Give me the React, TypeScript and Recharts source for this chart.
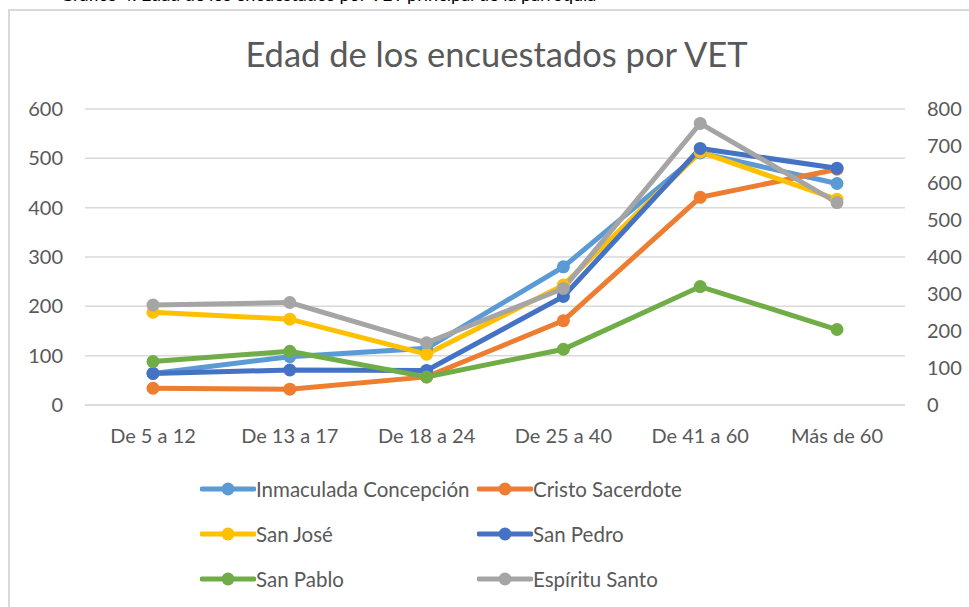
import React from "react";
import { LineChart, Line, XAxis, YAxis, CartesianGrid, Legend } from "recharts";

const categories = ["De 5 a 12", "De 13 a 17", "De 18 a 24", "De 25 a 40", "De 41 a 60", "Más de 60"];
const inmaculada = [64, 98, 115, 280, 511, 449];
const cristo = [34, 32, 57, 171, 421, 478];
const sanJose = [188, 174, 103, 243, 513, 417];
const sanPedro = [64, 71, 70, 220, 520, 480];
const sanPablo = [88, 109, 57, 113, 240, 153];
const espiritu = [270, 277, 168, 315, 761, 547]; // secondary axis
const leftTicks = [0, 100, 200, 300, 400, 500, 600];
const rightTicks = [0, 100, 200, 300, 400, 500, 600, 700, 800];

const seriesList = [
  { key: "inmaculada", name: "Inmaculada Concepción", color: "#5B9BD5", values: inmaculada, axis: "left" },
  { key: "cristo", name: "Cristo Sacerdote", color: "#ED7D31", values: cristo, axis: "left" },
  { key: "sanJose", name: "San José", color: "#FFC000", values: sanJose, axis: "left" },
  { key: "sanPedro", name: "San Pedro", color: "#4472C4", values: sanPedro, axis: "left" },
  { key: "sanPablo", name: "San Pablo", color: "#70AD47", values: sanPablo, axis: "left" },
  { key: "espiritu", name: "Espíritu Santo", color: "#A5A5A5", values: espiritu, axis: "right" },
];

const data = categories.map((c, i) => {
  const row: Record<string, any> = { cat: c };
  seriesList.forEach((s) => (row[s.key] = s.values[i]));
  return row;
});

const FONT = "Lato, 'Open Sans', sans-serif";
const TXT = "#595959";

const LegendContent = () => (
  <div style={{ display: "grid", gridTemplateColumns: "277px 260px", rowGap: 0, fontFamily: FONT }}>
    {seriesList.map((s) => (
      <div key={s.key} style={{ display: "flex", alignItems: "center", height: 45 }}>
        <svg width={56} height={16} style={{ flex: "none" }}>
          <line x1={2} y1={8} x2={54} y2={8} stroke={s.color} strokeWidth={5} strokeLinecap="round" />
          <circle cx={28} cy={8} r={6.5} fill={s.color} />
        </svg>
        <span style={{ fontSize: 20.5, color: TXT, whiteSpace: "nowrap" }}>{s.name}</span>
      </div>
    ))}
  </div>
);

export default function App() {
  return (
    <div style={{ position: "absolute", left: 0, top: 0, width: 969, height: 607, overflow: "hidden", background: "#fff" }}>
      <div
        style={{
          position: "absolute",
          left: 60,
          top: -15.5,
          fontFamily: FONT,
          fontSize: 18,
          lineHeight: "18px",
          color: "#000",
          whiteSpace: "nowrap",
        }}
      >
        Gráfico 4. Edad de los encuestados por VET principal de la parroquia
      </div>
      <div
        style={{
          position: "absolute",
          left: 8,
          top: 9,
          width: 1000,
          height: 700,
          border: "2px solid #D9D9D9",
          boxSizing: "border-box",
        }}
      />
      <div
        style={{
          position: "absolute",
          left: 0,
          width: 969,
          top: 32,
          textAlign: "center",
          paddingLeft: 24,
          boxSizing: "border-box",
          fontFamily: FONT,
          fontSize: 34.5,
          color: TXT,
          lineHeight: "44px",
        }}
      >
        Edad de los encuestados por VET
      </div>
      <div style={{ position: "absolute", left: 0, top: 0 }}>
        <LineChart width={969} height={607} data={data} margin={{ top: 109, right: 0, bottom: 0, left: 0 }}>
          <CartesianGrid yAxisId="left" vertical={false} stroke="#D9D9D9" strokeWidth={1.5} />
          <XAxis
            dataKey="cat"
            height={202}
            padding={{ left: 68, right: 68 }}
            axisLine={{ stroke: "#D9D9D9", strokeWidth: 1.5 }}
            tickLine={false}
            tickSize={0}
            tickMargin={24}
            tick={{ fill: TXT, fontSize: 20, fontFamily: FONT }}
            interval={0}
          />
          <YAxis
            yAxisId="left"
            width={85}
            domain={[0, 600]}
            ticks={leftTicks}
            axisLine={false}
            tickLine={false}
            tickSize={0}
            tickMargin={22}
            tick={{ fill: TXT, fontSize: 20, fontFamily: FONT }}
          />
          <YAxis
            yAxisId="right"
            orientation="right"
            width={64}
            domain={[0, 800]}
            ticks={rightTicks}
            axisLine={false}
            tickLine={false}
            tickSize={0}
            tickMargin={22}
            tick={{ fill: TXT, fontSize: 20, fontFamily: FONT }}
          />
          <Legend
            layout="horizontal"
            align="center"
            verticalAlign="middle"
            wrapperStyle={{ left: 200, top: 466, width: 560, height: 140 }}
            content={() => <LegendContent />}
          />
          {seriesList.map((s) => (
            <Line
              key={s.key}
              yAxisId={s.axis}
              dataKey={s.key}
              name={s.name}
              stroke={s.color}
              strokeWidth={5}
              dot={{ r: 6.5, fill: s.color, stroke: s.color, strokeWidth: 0 }}
              isAnimationActive={false}
            />
          ))}
        </LineChart>
      </div>
    </div>
  );
}
